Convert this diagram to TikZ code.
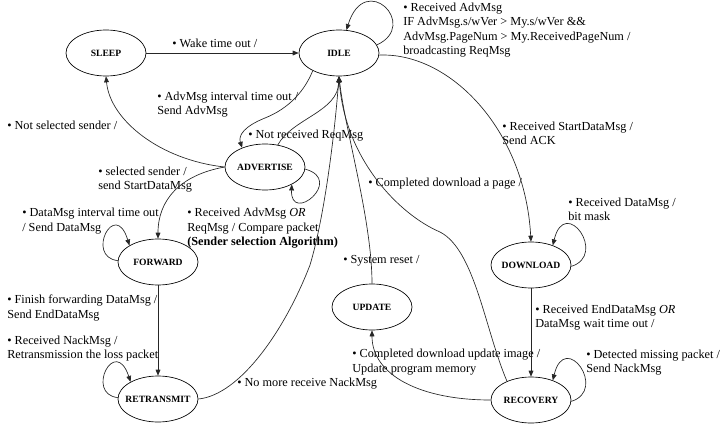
\documentclass[tikz,border=0pt]{standalone}
\usepackage{fontspec}
\setmainfont{Liberation Serif}
\usetikzlibrary{shapes.geometric,arrows.meta}
\begin{document}
\begin{tikzpicture}[x=0.75pt,y=-0.75pt,
  stnode/.style={ellipse,draw,line width=0.5pt,minimum width=60pt,minimum height=34.5pt,inner sep=0pt,font=\fontsize{7.2}{8}\selectfont\bfseries},
  lbl/.style={anchor=west,inner sep=0pt,align=left,font=\fontsize{9.2}{10.9}\selectfont},
  arr/.style={draw=black!85,line width=0.5pt,-{Triangle[length=4.5pt,width=3.6pt]}}]
\path[use as bounding box] (0,0) rectangle (722,425);
% states
\node[stnode] (sleep) at (106,53) {\makebox[0pt]{SLEEP}};
\node[stnode] (idle) at (339,53) {\makebox[0pt]{IDLE}};
\node[stnode] (adv) at (265,167) {\makebox[0pt]{ADVERTISE}};
\node[stnode] (fwd) at (158,262) {\makebox[0pt]{FORWARD}};
\node[stnode] (retr) at (158,399) {\makebox[0pt]{RETRANSMIT}};
\node[stnode] (upd) at (372,307) {\makebox[0pt]{UPDATE}};
\node[stnode] (dl) at (531,265) {\makebox[0pt]{DOWNLOAD}};
\node[stnode] (rec) at (531,400) {\makebox[0pt]{RECOVERY}};
% labels
\node[lbl] (l1) at (172,43) {• Wake time out /};
\node[lbl] (l2) at (403,30) {• Received AdvMsg\\IF AdvMsg.s/wVer > My.s/wVer \&\&\\AdvMsg.PageNum > My.ReceivedPageNum /\\broadcasting ReqMsg};
\node[lbl] (l3) at (157,104.5) {• AdvMsg interval time out /\\Send AdvMsg};
\node[lbl] (l4) at (7,125) {• Not selected sender /};
\node[lbl] (l5) at (248,136) {• Not received ReqMsg};
\node[lbl] (l6) at (98,179.5) {• selected sender /\\send StartDataMsg};
\node[lbl] (l7) at (502,133.5) {• Received StartDataMsg /\\Send ACK};
\node[lbl] (l8) at (368,184) {• Completed download a page /};
\node[lbl] (l9) at (568,209.5) {• Received DataMsg /\\bit mask};
\node[lbl] (l10) at (22,221) {• DataMsg interval time out\\/ Send DataMsg};
\node[lbl] (l11) at (187,228.5) {• Received AdvMsg \textit{OR}\\ReqMsg / Compare packet\\\textbf{(Sender selection Algorithm)}};
\node[lbl] (l12) at (343,261) {• System reset /};
\node[lbl] (l13) at (7,308) {• Finish forwarding DataMsg /\\Send EndDataMsg};
\node[lbl] (l14) at (535,317.5) {• Received EndDataMsg \textit{OR}\\DataMsg wait time out /};
\node[lbl] (l15) at (7,348.5) {• Received NackMsg /\\Retransmission the loss packet};
\node[lbl] (l16) at (352,362) {• Completed download update image /\\Update program memory};
\node[lbl] (l17) at (586,362.5) {• Detected missing packet /\\Send NackMsg};
\node[lbl] (l18) at (237,384) {• No more receive NackMsg};
% transitions
\draw[arr] (sleep) -- (idle);
\draw[arr] (idle.12) .. controls (420,25) and (365,-30) .. (idle.72);
\draw[arr] (idle.-3) .. controls (450,52) and (525,130) .. (dl.north);
\draw[arr] (idle.214) .. controls (305,90) and (290,108) .. (265,118) .. controls (245,126) and (238,135) .. (adv.140);
\draw[arr] (adv.60) .. controls (293,118) and (338,112) .. (idle.south);
\draw[arr] (adv.west) .. controls (160,160) and (110,120) .. (sleep.south);
\draw[arr] (adv.west) .. controls (180,175) and (158,200) .. (fwd.north);
\draw[arr] (adv.-3) .. controls (345,180) and (290,225) .. (adv.-33);
\draw[arr] (fwd.178) .. controls (85,257) and (115,198) .. (fwd.150);
\draw[arr] (fwd.south) -- (retr.north);
\draw[arr] (retr.178) .. controls (85,394) and (115,335) .. (retr.148);
\draw[arr] (retr.east) .. controls (240,395) and (285,330) .. (310,265) .. controls (325,215) and (335,130) .. (idle.south);
\draw[arr] (upd.north) .. controls (372,220) and (345,130) .. (idle.south);
\draw[arr] (rec.142) .. controls (485,330) and (475,250) .. (440,232) .. controls (400,215) and (345,160) .. (idle.south);
\draw[arr] (dl.-2) .. controls (608,255) and (565,195) .. (dl.42);
\draw[arr] (dl.south) -- (rec.north);
\draw[arr] (rec.-2) .. controls (608,390) and (565,330) .. (rec.42);
\draw[arr] (rec.west) .. controls (420,400) and (372,375) .. (upd.south);
\end{tikzpicture}
\end{document}
